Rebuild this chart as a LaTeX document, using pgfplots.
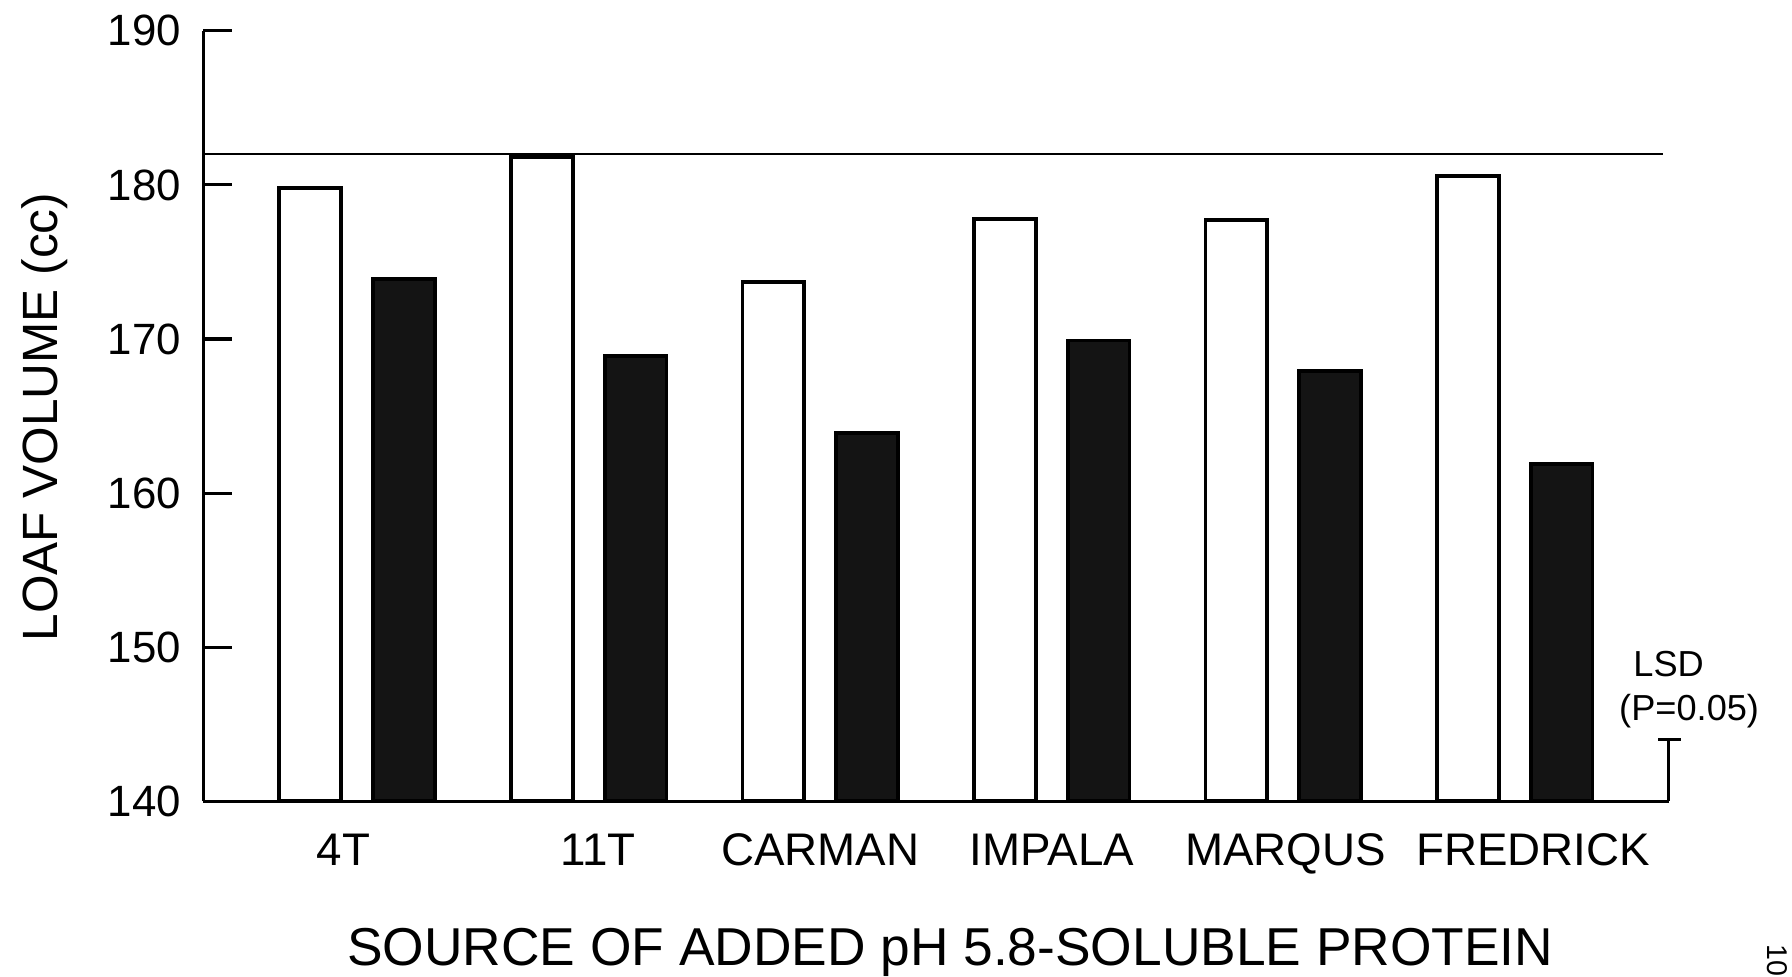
\documentclass[border=0pt]{standalone}
\usepackage{pgfplots}
\pgfplotsset{compat=1.18}
\usepackage{fontspec}
\setmainfont{Liberation Sans}
\begin{document}
\begin{tikzpicture}[x=0.3pt,y=0.3pt]
\useasboundingbox (0,0) rectangle (1568,854);
\begin{axis}[
  at={(53.4pt,45.9pt)}, anchor=south west,
  scale only axis, width=384.6pt, height=202.2pt,
  xmin=-0.664, xmax=5.664, ymin=140, ymax=190,
  clip=false,
  y coord trafo/.code={\pgfmathparse{#1-140}},
  y coord inv trafo/.code={\pgfmathparse{#1+140}},
  axis x line=bottom, axis y line=left,
  axis line style={-, line width=0.8pt, black},
  xtick={-0.06,1.04,2.0,3.0,4.01,5.08},
  xticklabels={4T,11T,CARMAN,IMPALA,MARQUS,FREDRICK},
  xtick style={draw=none},
  ytick={140,150,160,170,180,190},
  yticklabels={140,150,160,170,180,190},
  tick align=inside,
  major tick length=7.4pt,
  ytick style={line width=0.8pt, black},
  /pgf/number format/assume math mode=true,
  xticklabel style={font=\fontsize{12}{14}\selectfont, anchor=north, inner sep=0pt, yshift=-8.4pt},
  yticklabel style={font=\fontsize{11.5}{13}\selectfont, anchor=east, inner sep=0pt, xshift=-5.7pt},
]
\addplot[ybar, bar width=0.267, bar shift=-0.2024, fill=white, draw=black, line width=1pt]
  coordinates {(0,179.8) (1,181.8) (2,173.7) (3,177.8) (4,177.7) (5,180.6)};
\addplot[ybar, bar width=0.267, bar shift=0.2024, fill=black!92, draw=black, line width=1pt]
  coordinates {(0,173.9) (1,168.9) (2,163.9) (3,169.9) (4,167.9) (5,161.9)};
\addplot[black, line width=0.7pt] coordinates {(-0.664,182) (5.639,182)};
\addplot[black, line width=1pt] coordinates {(5.664,140) (5.664,144)};
\addplot[black, line width=1pt] coordinates {(5.62,144) (5.717,144)};
\end{axis}
\node[rotate=90, anchor=base, font=\fontsize{13}{15}\selectfont] at (50,489) {LOAF VOLUME (cc)};
\node[anchor=base, font=\fontsize{14}{16}\selectfont] at (831.5,9) {SOURCE OF ADDED pH 5.8-SOLUBLE PROTEIN};
\node[anchor=base, font=\fontsize{9.5}{11}\selectfont] at (1460,262) {LSD};
\node[anchor=base, font=\fontsize{9.5}{11}\selectfont] at (1478,224) {(P=0.05)};
\node[rotate=-90, font=\fontsize{7.5}{9}\selectfont] at (1555,14) {10};
\end{tikzpicture}
\end{document}
